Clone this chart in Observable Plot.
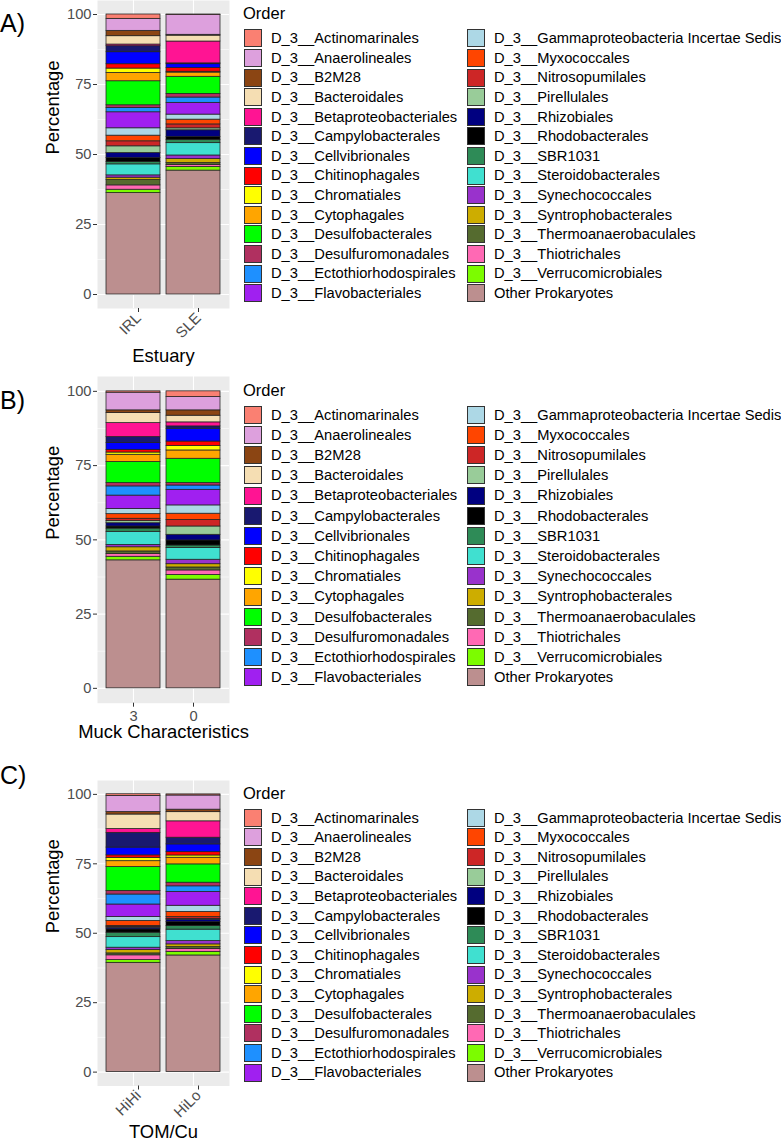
<!DOCTYPE html>
<html>
<head>
<meta charset="utf-8">
<script src="https://cdn.jsdelivr.net/npm/d3@7"></script>
<script src="https://cdn.jsdelivr.net/npm/@observablehq/plot@0.6"></script>
<style>
  html, body { margin: 0; padding: 0; background: #fff; }
  body { width: 781px; height: 1142px; position: relative; overflow: hidden;
         font-family: "Liberation Sans", Arial, sans-serif; }
  .abs { position: absolute; white-space: nowrap; line-height: 1; }
  .plab { font-size: 25px; color: #000; }
  .ltitle { font-size: 16.5px; color: #000; }
  .ltext { font-size: 14.7px; color: #000; }
  .lkey { width: 18px; height: 18px; box-sizing: border-box; border: 0.8px solid #333; }
</style>
</head>
<body>
<script>
// ---- data ----
const ORDERS = [
  "D_3__Actinomarinales", "D_3__Anaerolineales", "D_3__B2M28", "D_3__Bacteroidales",
  "D_3__Betaproteobacteriales", "D_3__Campylobacterales", "D_3__Cellvibrionales",
  "D_3__Chitinophagales", "D_3__Chromatiales", "D_3__Cytophagales", "D_3__Desulfobacterales",
  "D_3__Desulfuromonadales", "D_3__Ectothiorhodospirales", "D_3__Flavobacteriales",
  "D_3__Gammaproteobacteria Incertae Sedis", "D_3__Myxococcales", "D_3__Nitrosopumilales",
  "D_3__Pirellulales", "D_3__Rhizobiales", "D_3__Rhodobacterales", "D_3__SBR1031",
  "D_3__Steroidobacterales", "D_3__Synechococcales", "D_3__Syntrophobacterales",
  "D_3__Thermoanaerobaculales", "D_3__Thiotrichales", "D_3__Verrucomicrobiales",
  "Other Prokaryotes"
];
const COLORS = [
  "#FA8072", "#DDA0DD", "#8B4513", "#F5DEB3",
  "#FF1493", "#191970", "#0000FF",
  "#FF0000", "#FFFF00", "#FFA500", "#00FF00",
  "#B03060", "#1E90FF", "#A020F0",
  "#ADD8E6", "#FF4500", "#CD2626",
  "#99CC99", "#000080", "#000000", "#2E8B57",
  "#40E0D0", "#9932CC", "#CDAD00",
  "#556B2F", "#FF69B4", "#7CFC00",
  "#BC8F8F"
];
const Y_TICKS = [0, 25, 50, 75, 100];
const Y_MINOR = [12.5, 37.5, 62.5, 87.5];

// Panel A: Estuary
const GROUPS_A = ["IRL", "SLE"];
const IRL = [1.55, 4.29, 1.91, 2.98, 0.59, 2.15, 4.29, 1.55, 1.55, 2.98, 8.58, 0.95, 1.55, 5.72,
             2.63, 2.02, 1.79, 2.38, 1.79, 1.43, 0.84, 3.93, 0.83, 0.84, 1.91, 1.55, 1.19, 36.23];
const SLE = [0.15, 7.1, 0.3, 2.1, 7.8, 0.3, 1.4, 1.3, 0.3, 1.5, 6.1, 1.3, 1.9, 4.2,
             1.8, 1.7, 1.4, 0.7, 2.4, 1.0, 1.2, 4.4, 1.3, 1.4, 0.7, 0.7, 1.3, 44.25];
// Panel B: Muck Characteristics
const GROUPS_B = ["3", "0"];
const MUCK3 = [0.45, 5.95, 0.9, 3.4, 4.7, 2.0, 2.3, 0.9, 0.75, 2.45, 7.1, 1.1, 3.1, 4.5,
               1.75, 1.55, 0.8, 0.7, 1.1, 0.7, 1.1, 4.4, 0.8, 1.4, 0.9, 0.9, 1.2, 43.1];
const MUCK0 = [1.9, 4.5, 1.8, 2.25, 1.35, 0.8, 4.3, 1.5, 1.5, 2.8, 8.2, 0.8, 1.45, 5.25,
               2.8, 2.1, 2.2, 2.8, 1.9, 1.7, 0.8, 4.0, 1.5, 1.1, 1.0, 1.5, 1.6, 36.6];
// Panel C: TOM/Cu
const GROUPS_C = ["HiHi", "HiLo"];
const HIHI = [0.6, 5.8, 0.9, 5.2, 1.4, 5.3, 2.8, 0.9, 1.2, 2.1, 8.6, 1.3, 3.6, 4.5,
              1.4, 1.8, 0.4, 0.25, 0.6, 1.2, 1.6, 3.8, 0.85, 1.2, 0.7, 1.7, 1.0, 39.35];
const HILO = [0.4, 5.1, 0.9, 3.3, 5.9, 2.4, 2.8, 1.2, 0.8, 2.4, 6.6, 1.3, 2.0, 5.0,
              2.2, 1.9, 0.6, 0.3, 0.9, 1.4, 1.3, 4.1, 1.2, 1.0, 0.7, 1.0, 1.3, 42.0];

const PANELS = [
  {label: "A)", xTitle: "Estuary", groups: GROUPS_A, values: [IRL, SLE], rotate: true,
   top: 0, frameH: 308, svgH: 370, xTitleDy: 48, labTop: 11, legTop: 0, legStep: 19.6},
  {label: "B)", xTitle: "Muck Characteristics", groups: GROUPS_B, values: [MUCK3, MUCK0], rotate: false,
   top: 376, frameH: 326.7, svgH: 400, xTitleDy: 29.3, labTop: 388, legTop: 376.5, legStep: 20.2},
  {label: "C)", xTitle: "TOM/Cu", groups: GROUPS_C, values: [HIHI, HILO], rotate: true,
   top: 780, frameH: 305.5, svgH: 362, xTitleDy: 46, labTop: 763, legTop: 779.5, legStep: 19.6}
];

function place(el, left, top) {
  el.style.left = left + "px"; el.style.top = top + "px";
  document.body.appendChild(el); return el;
}

for (const p of PANELS) {
  // table built from the arrays; reversed so "Other Prokaryotes" is at the bottom of each stack
  const rows = [];
  p.groups.forEach((g, gi) => {
    for (let k = ORDERS.length - 1; k >= 0; --k) rows.push({group: g, order: ORDERS[k], value: p.values[gi][k]});
  });

  const svg = Plot.plot({
    width: 236, height: p.svgH,
    marginLeft: 97, marginRight: 7, marginTop: 0, marginBottom: p.svgH - p.frameH,
    style: {fontFamily: "'Liberation Sans', Arial, sans-serif", fontSize: "14.7px", background: "transparent", overflow: "visible"},
    x: {type: "band", domain: p.groups, paddingInner: 0.1, paddingOuter: 0.15, label: null},
    y: {domain: [-5, 105], label: null},
    color: {domain: ORDERS, range: COLORS},
    marks: [
      Plot.frame({fill: "#EBEBEB", stroke: null}),
      Plot.gridY({ticks: Y_MINOR, stroke: "#fff", strokeOpacity: 1, strokeWidth: 0.55}),
      Plot.gridY({ticks: Y_TICKS, stroke: "#fff", strokeOpacity: 1, strokeWidth: 1.1}),
      Plot.gridX({stroke: "#fff", strokeOpacity: 1, strokeWidth: 1.1}),
      Plot.barY(rows, {x: "group", y: "value", fill: "order", stroke: "#222", strokeWidth: 0.75}),
      Plot.axisY({ticks: Y_TICKS, tickSize: 4, tickPadding: 2, fontSize: 14.7, fill: "#4D4D4D", stroke: "#333", label: null}),
      Plot.axisX(p.rotate
        ? {tickSize: 4, tickPadding: 3, tickRotate: -45, dx: 5, fontSize: 15, fill: "#4D4D4D", stroke: "#333", label: null}
        : {tickSize: 4, tickPadding: 3, fontSize: 14.7, fill: "#4D4D4D", stroke: "#333", label: null}),
      Plot.text(["Percentage"], {text: d => d, frameAnchor: "left", dx: -44, rotate: -90, fontSize: 18.4, fill: "#000"}),
      Plot.text([p.xTitle], {text: d => d, frameAnchor: "bottom", dy: p.xTitleDy, lineAnchor: "middle", fontSize: 18.4, fill: "#000"})
    ]
  });
  const wrap = document.createElement("div");
  wrap.className = "abs";
  wrap.style.lineHeight = "0";
  wrap.appendChild(svg);
  place(wrap, 0, p.top);

  const lab = document.createElement("div");
  lab.className = "abs plab"; lab.textContent = p.label;
  place(lab, 0, p.labTop);

  // legend
  const t = document.createElement("div");
  t.className = "abs ltitle"; t.textContent = "Order";
  place(t, 243, p.legTop + 5);
  ORDERS.forEach((name, i) => {
    const col = Math.floor(i / 14), row = i % 14;
    const cy = p.legTop + 38.3 + p.legStep * row;
    const key = document.createElement("div");
    key.className = "abs lkey"; key.style.background = COLORS[i];
    place(key, col ? 466.5 : 243.5, cy - 9);
    const tx = document.createElement("div");
    tx.className = "abs ltext"; tx.textContent = name;
    place(tx, col ? 494 : 271, cy - 7.2);
  });
}
</script>
</body>
</html>
